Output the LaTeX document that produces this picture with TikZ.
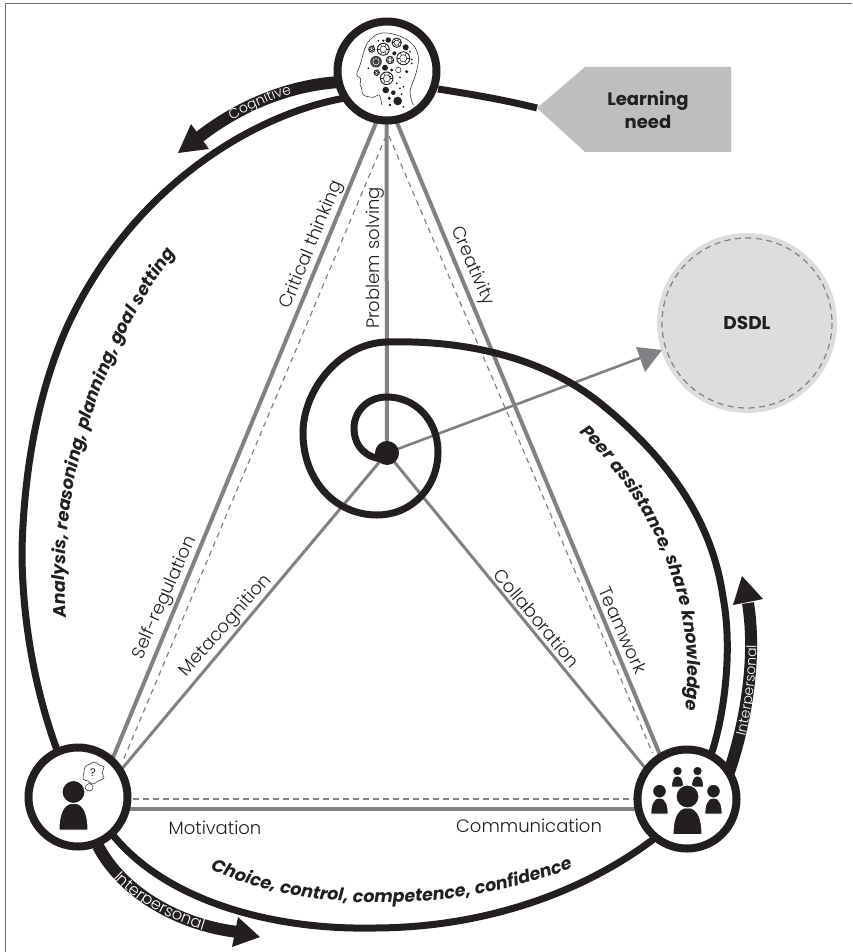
\documentclass[tikz,border=0pt]{standalone}
\usepackage{fontspec}
\setmainfont{Poppins}
\newfontfamily\lightf{Poppins Light}
\newfontfamily\bandf[LetterSpace=10]{Poppins Light}
\newfontfamily\curvef[LetterSpace=3,ItalicFont={Poppins Bold Italic}]{Poppins Bold Italic}
\usetikzlibrary{decorations.text}
\definecolor{ink}{HTML}{231F20}
\definecolor{midgray}{HTML}{808285}
\definecolor{softgray}{HTML}{BCBEC0}
\definecolor{palegray}{HTML}{DCDDDE}
\definecolor{frameg}{HTML}{6D6E71}
\definecolor{labelc}{HTML}{231F20}
\tikzset{
  hub/.style={circle,draw=ink,fill=white,line width=8pt,minimum size=99pt,inner sep=0pt},
  solidline/.style={draw=midgray,line width=4pt},
  spoke/.style={draw=midgray,line width=3pt},
  dashline/.style={draw=midgray,line width=1.2pt,dash pattern=on 5.5pt off 4.5pt},
  ring/.style={draw=ink,line width=7pt},
  band/.style={draw=ink,line width=12pt},
  lbl/.style={text=labelc,font=\lightf\fontsize{18}{20}\selectfont,inner sep=0pt},
}
\newcommand{\personfig}[3]{%
  \begin{scope}[shift={(#1,#2)},x=#3pt,y=#3pt]
    \filldraw[fill=ink,draw=white,line width=1pt] (-14.5,0) .. controls (-14.5,12) and (-12,27) .. (0,27) .. controls (12,27) and (14.5,12) .. (14.5,0) -- cycle;
    \filldraw[fill=ink,draw=white,line width=1pt] (0,38) circle (11.5);
  \end{scope}%
}
\newcommand{\gearicon}[3]{%
  \draw[ink,line width=.9pt] (#1,#2) circle (#3);
  \draw[ink,line width=.5pt] (#1,#2) circle (#3*.55);
  \foreach \a in {0,60,...,300}{\draw[ink,line width=.45pt] (#1,#2) ++(\a:#3*.55) -- ++(\a:#3*.45);}
}
\newcommand{\blob}[3]{\fill[ink] (#1,#2) circle (#3);}
\begin{document}
\begin{tikzpicture}[x=1pt,y=-1pt]
\useasboundingbox (0,0) rectangle (852,952);
% frame
\coordinate (fa) at (5.5,952);\coordinate (fb) at (5.5,3);\coordinate (fc) at (852,3);
\draw[frameg,line width=.9pt] (fa) -- (fb) -- (fc);

% named ends
\coordinate (tl) at (378,118);\coordinate (tm) at (386.5,118);\coordinate (tr) at (395,118);
\coordinate (tdl) at (386,136);\coordinate (tdr) at (389,136);
\coordinate (ls) at (112,760);\coordinate (ld) at (122,763);\coordinate (lsp) at (110,783);
\coordinate (lh) at (120,809);\coordinate (lhd) at (133,799);
\coordinate (rs) at (663,762);\coordinate (rd) at (652.5,753);\coordinate (rsp) at (655,780);
\coordinate (rh) at (650,809);\coordinate (rhd) at (634,799);
\coordinate (cen) at (387,453);

% grey lines
\draw[solidline] (tl) -- (ls);
\draw[solidline] (tr) -- (rs);
\draw[solidline] (tm) -- (cen);
\draw[solidline] (lh) -- (rh);
\draw[dashline] (tdl) -- (ld);
\draw[dashline] (tdr) -- (rd);
\draw[dashline] (lhd) -- (rhd);
\draw[spoke] (cen) -- (lsp);
\draw[spoke] (cen) -- (rsp);

% DSDL
\node[circle,fill=palegray,minimum size=180pt,inner sep=0pt] (dsdl) at (747,323) {};
\draw[midgray,line width=1.2pt,dash pattern=on 6pt off 4.5pt] (747,323) circle (85);
\node[font=\bfseries\fontsize{18.5}{20}\selectfont,text=ink,inner sep=0pt] (dsdlt) at (747,323) {DSDL};
\coordinate (atip) at (662,350);
\coordinate (ashaft) at (640,358);
\draw[spoke,line width=2.6pt] (cen) -- (ashaft);
\fill[midgray] (atip) -- (636,347) -- (645,372) -- cycle;

% learning need
\node[inner sep=0pt] (ltip) at (537,108) {};
\draw[ring] (438,89) .. controls (470,94) and (505,100) .. (ltip.center);
\fill[softgray] (ltip.center) -- (585,67) -- (731,67) -- (731,152) -- (585,152) -- cycle;
\node[align=center,font=\bfseries\fontsize{18}{23}\selectfont,text=ink,inner sep=0pt] (lneed) at (648,110) {Learning\\need};

% big cognitive curve
\draw[ring] (345,98) .. controls (250,115) and (130,190) .. (67,327) .. controls (38,392) and (24,470) .. (22,550) .. controls (22,620) and (35,690) .. (57,750);
% bottom curve
\draw[ring] (112,834) .. controls (165,900) and (270,930) .. (373,928) .. controls (480,928) and (580,895) .. (655,838);
% spiral
\draw[ring,line cap=round] (712,752) .. controls (724,715) and (733,650) .. (723,597)
 .. controls (712,520) and (668,458) .. (600,403)
 .. controls (540,355) and (460,340) .. (387,342)
 .. controls (340,343) and (303,390) .. (303,433)
 .. controls (303,480) and (335,515) .. (377,515)
 .. controls (412,515) and (438,487) .. (438,452)
 .. controls (438,420) and (415,397) .. (387,397)
 .. controls (367,397) and (354,412) .. (354,428)
 .. controls (354,447) and (367,459) .. (385,459);
\node[circle,fill=ink,minimum size=24pt,inner sep=0pt] (dot) at (cen) {};

% bands
\draw[band] (340,82) .. controls (290,85) and (240,105) .. (198,138);
\fill[ink] (178,153) -- (191,124) -- (209,149) -- cycle;
\draw[band] (98,846) .. controls (122,892) and (178,925) .. (238,932);
\fill[ink] (260,937) -- (238,917) -- (232,947) -- cycle;
\draw[band] (729,772) .. controls (745,725) and (757,660) .. (748,603);
\fill[ink] (742,576) -- (733,605) -- (763,599) -- cycle;

% band labels
\path[decorate,decoration={text along path,text align={center},text={|\bandf\fontsize{14}{15}\selectfont\color{white}|Cognitive}}]
  (200,143) .. controls (240,110) and (285,92) .. (330,84);
\path[decorate,decoration={text along path,text align={center},text={|\bandf\fontsize{16}{17}\selectfont\color{white}|Interpersonal}}]
  (91,849) .. controls (118,896) and (176,929) .. (239,938);
\path[decorate,decoration={text along path,text align={center},text={|\bandf\fontsize{14}{15}\selectfont\color{white}|Interpersonal}}]
  (735,770) .. controls (752,725) and (760,660) .. (755,610);

% curved bold labels
\path[decorate,decoration={text along path,text align={center},text={|\curvef\fontsize{17.5}{18}\selectfont\color{ink}|Analysis, reasoning, planning, goal setting}}]
  (75,665) .. controls (45,545) and (80,360) .. (205,215);
\path[decorate,decoration={text along path,text align={center},text={|\curvef\fontsize{17.5}{18}\selectfont\color{ink}|Peer assistance, share knowledge}}]
  (550,405) .. controls (640,480) and (715,600) .. (678,750);
\path[decorate,decoration={text along path,text align={center},text={|\curvef\fontsize{17.5}{18}\selectfont\color{ink}|Choice, control, competence, confidence}}]
  (175,850) .. controls (280,920) and (470,920) .. (610,852);

% straight labels
\node[lbl,rotate=67.5] (l1) at (312,245) {Critical thinking};
\node[lbl,rotate=90] (l2) at (375,258) {Problem solving};
\node[lbl,rotate=-66.5] (l3) at (472,266) {Creativity};
\node[lbl,rotate=66] (l4) at (165,598) {Self-regulation};
\node[lbl,rotate=48.5] (l5) at (226,626) {Metacognition};
\node[lbl,rotate=-50] (l6) at (537,618) {Collaboration};
\node[lbl,rotate=-66] (l7) at (623,630) {Teamwork};
\node[lbl] (l8) at (215,828) {Motivation};
\node[lbl] (l9) at (529,826) {Communication};

% hubs
\node[hub] (top) at (387,71) {};
\node[hub] (left) at (78,797) {};
\node[hub] (right) at (687,799) {};

% brain icon
\begin{scope}[shift={(340,20)},x=.3333pt,y=-.3333pt]
\draw[ink,line width=.5pt] plot[smooth,tension=.6] coordinates {(220,255)(210,215)(228,160)(235,110)(215,70)(170,45)(120,40)(85,65)(70,100)(62,130)(50,165)(62,175)(60,195)(65,205)(70,225)(100,232)(118,225)(125,255)};
\end{scope}
\gearicon{383.3}{49.3}{6}
\gearicon{396.7}{42.7}{4.7}
\gearicon{390}{60}{3.7}
\gearicon{403.3}{58.3}{6.5}
\gearicon{386.7}{78.3}{6.3}
\gearicon{371.7}{49.3}{3}
\gearicon{376.7}{72.7}{2.7}
\fill[ink!85] (376,61.7) circle (5.8);
\draw[white,line width=.5pt] (376,61.7) circle (3.2);
\draw[ink,line width=.5pt] (398.3,70) circle (2.7);
\blob{388.3}{40}{2.7}\blob{405.7}{47.3}{3}\blob{394.3}{53.3}{2}\blob{385}{67.7}{3}\blob{406.7}{71.7}{1.7}
\blob{385.7}{90}{3.3}\blob{393.3}{92.7}{2.3}\blob{397.7}{101}{4.3}\blob{389.3}{98.3}{1.7}\blob{391.7}{70}{1.7}
\blob{383.3}{40.7}{1.3}\blob{378.3}{40.7}{1}\blob{373.3}{46}{1}\blob{368.3}{68.3}{1}\blob{410}{51.7}{1}\blob{411.7}{59.3}{1}\blob{411.7}{63.3}{1}
\blob{400}{77.3}{1}\blob{396.7}{83.3}{1}\blob{390}{76.7}{1}\blob{390}{105}{1.3}\blob{401.7}{94}{1}\blob{403.3}{106.7}{1}\blob{403.3}{86.7}{1}\blob{400}{88.3}{1}

% left person
\personfig{73.5}{830}{1}
\begin{scope}[shift={(93,773)}]
\draw[ink,line width=.5pt,fill=white] plot[smooth cycle,tension=.8] coordinates {(-8,-6)(-3,-9)(2,-11)(6,-8)(11,-6)(9,0)(11,5)(5,8)(0,11)(-5,8)(-10,6)(-9,0)};
\node[font=\fontsize{11}{11}\selectfont,text=ink,inner sep=0pt] (qm) at (0,0) {?};
\end{scope}
\draw[ink,line width=.5pt,fill=white] plot[smooth cycle,tension=.8] coordinates {(85,788)(89,783.5)(93,787)(90,791)};

% group icon
\personfig{677.5}{787}{.42}
\personfig{697.5}{787}{.42}
\personfig{659.5}{814}{.6}
\personfig{713.5}{814}{.6}
\personfig{687.5}{834.5}{1}
\end{tikzpicture}
\end{document}
